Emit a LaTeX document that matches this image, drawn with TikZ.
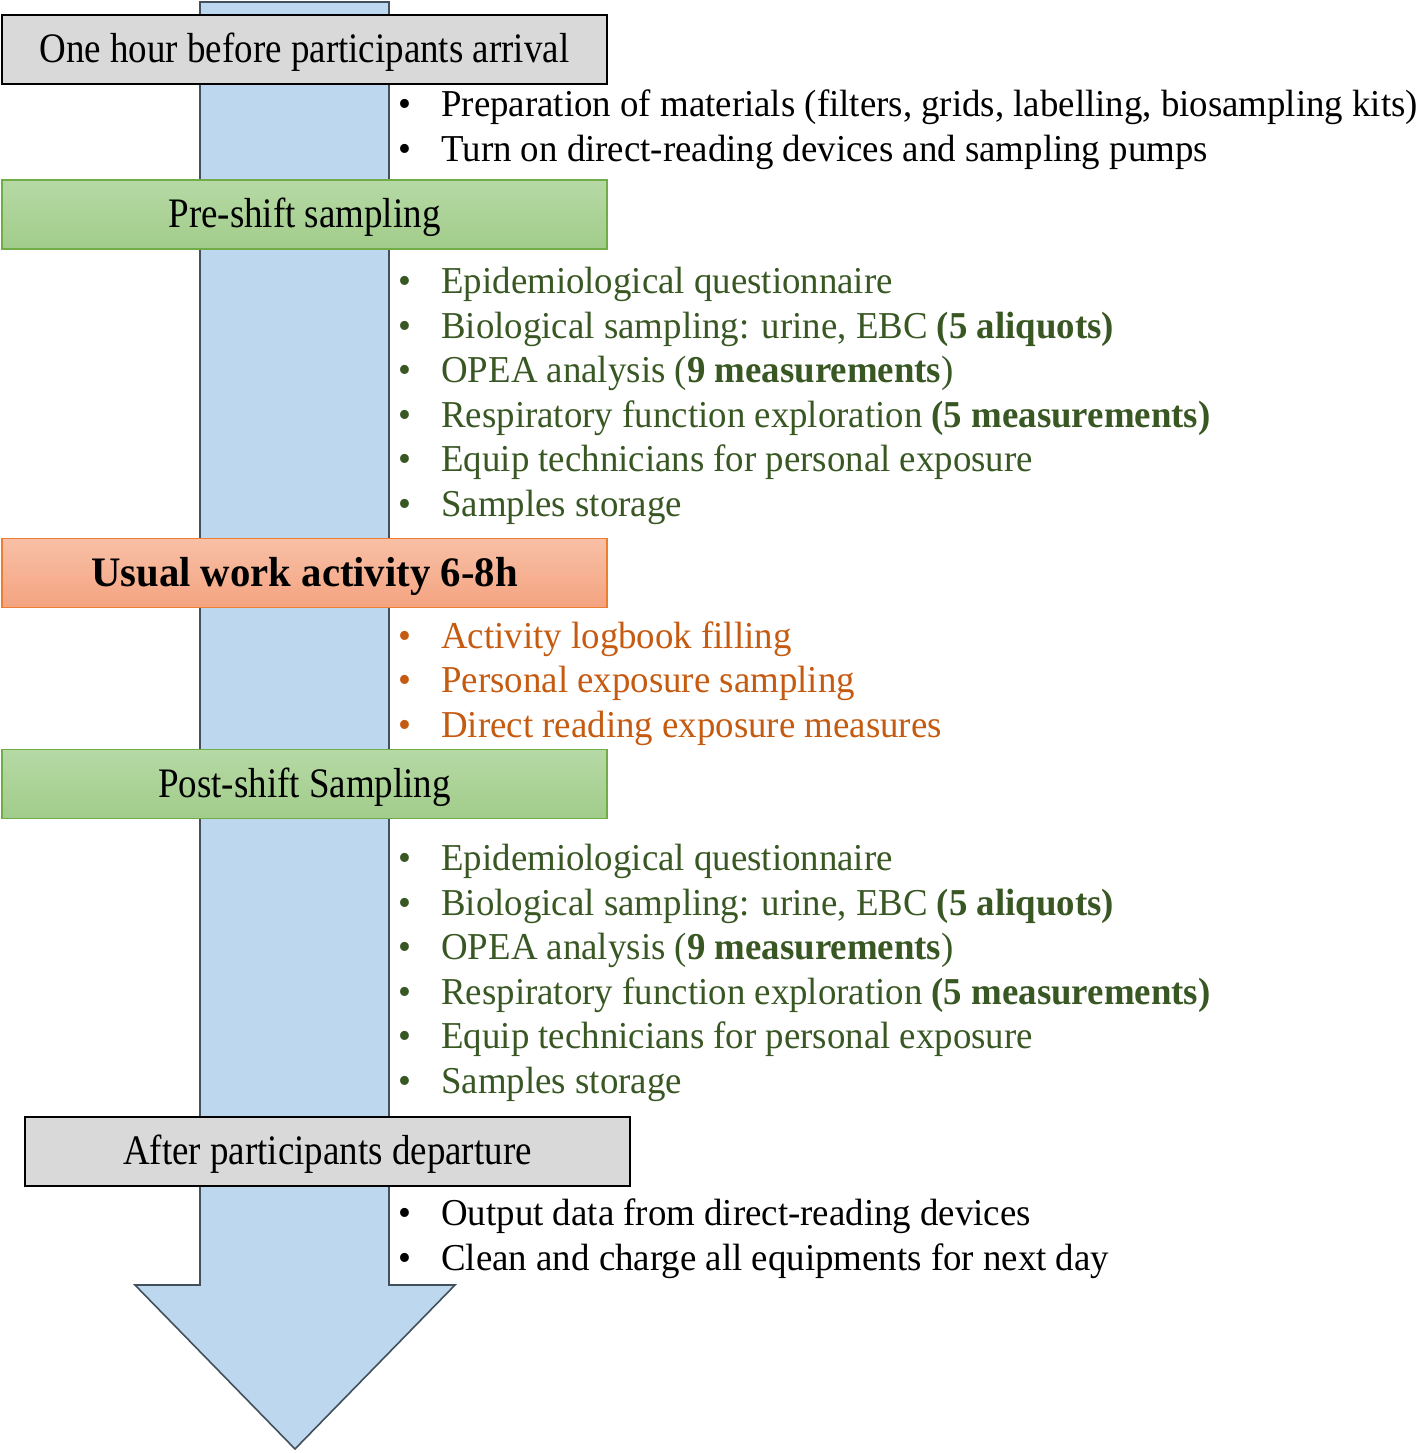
\documentclass[tikz,border=0pt]{standalone}
\usepackage{fontspec}
\setmainfont{Liberation Serif}[FakeStretch=0.97]
\newfontfamily\tltitlefont{Liberation Serif}[FakeStretch=0.88]
\usetikzlibrary{positioning}
\definecolor{tlInk}{HTML}{000000}
\definecolor{tlGrey}{HTML}{D9D9D9}
\definecolor{tlBlue}{HTML}{BDD7EE}
\definecolor{tlSlate}{HTML}{42505C}
\definecolor{tlGreenTop}{HTML}{B6D9A5}
\definecolor{tlGreenBot}{HTML}{A1CC8A}
\definecolor{tlGreenLine}{HTML}{70AD47}
\definecolor{tlGreenText}{HTML}{385723}
\definecolor{tlOrangeTop}{HTML}{F8C0A6}
\definecolor{tlOrangeBot}{HTML}{F4A380}
\definecolor{tlOrangeLine}{HTML}{ED7D31}
\definecolor{tlOrangeText}{HTML}{C55A11}
\newcommand{\tlitem}{\makebox[21.5pt][l]{\textbullet}}
\tikzset{
  tl phase/.style={
    draw=tlInk,
    line width=.9pt,
    minimum width=302.5pt,
    minimum height=34.5pt,
    inner sep=0pt,
    text height=16.5pt,
    text depth=3.5pt,
    font=\fontsize{21}{24}\selectfont\tltitlefont,
    text=tlInk
  },
  tl phase grey/.style={tl phase, fill=tlGrey},
  tl phase green/.style={tl phase, draw=tlGreenLine, top color=tlGreenTop, bottom color=tlGreenBot},
  tl phase orange/.style={tl phase, draw=tlOrangeLine, top color=tlOrangeTop, bottom color=tlOrangeBot,
    font=\fontsize{21}{24}\selectfont\rmfamily\bfseries},
  tl list/.style={anchor=west, inner sep=0pt, font=\fontsize{19}{22.3}\selectfont, align=left},
  tl arrow/.style={fill=tlBlue, draw=tlSlate, line width=.8pt}
}

\begin{document}
\begin{tikzpicture}[x=0.5pt,y=-0.5pt]
  \useasboundingbox (0,0) rectangle (1418,1453);

  % timeline arrow
  \draw[tl arrow] (200,2) -- (389,2) -- (389,1285) -- (455,1285) -- (295,1449)
    -- (135,1285) -- (200,1285) -- cycle;

  % phases
  \node[tl phase grey] (before) at (304.5,49.5) {One hour before participants arrival};
  \node[tl phase green] (preshift) at (304.5,214.5) {Pre-shift sampling};
  \node[tl phase orange] (usual) at (304.5,573) {Usual work activity 6-8h};
  \node[tl phase green] (postshift) at (304.5,784) {Post-shift Sampling};
  \node[tl phase grey] (after) at (327.5,1151.5) {After participants departure};

  % tasks
  \node[tl list, text=tlInk] (prep) at (398,130) {\begin{tabular}{@{}l@{}}
    \tlitem Preparation of materials (filters, grids, labelling, biosampling kits)\\
    \tlitem Turn on direct-reading devices and sampling pumps
  \end{tabular}};
  \node[tl list, text=tlGreenText] (pretasks) at (398,396) {\begin{tabular}{@{}l@{}}
    \tlitem Epidemiological questionnaire\\
    \tlitem Biological sampling: urine, EBC \textbf{(5 aliquots)}\\
    \tlitem OPEA analysis (\textbf{9 measurements})\\
    \tlitem Respiratory function exploration \textbf{(5 measurements)}\\
    \tlitem Equip technicians for personal exposure\\
    \tlitem Samples storage
  \end{tabular}};
  \node[tl list, text=tlOrangeText] (worktasks) at (398,684) {\begin{tabular}{@{}l@{}}
    \tlitem Activity logbook filling\\
    \tlitem Personal exposure sampling\\
    \tlitem Direct reading exposure measures
  \end{tabular}};
  \node[tl list, text=tlGreenText] (posttasks) at (398,973) {\begin{tabular}{@{}l@{}}
    \tlitem Epidemiological questionnaire\\
    \tlitem Biological sampling: urine, EBC \textbf{(5 aliquots)}\\
    \tlitem OPEA analysis (\textbf{9 measurements})\\
    \tlitem Respiratory function exploration \textbf{(5 measurements)}\\
    \tlitem Equip technicians for personal exposure\\
    \tlitem Samples storage
  \end{tabular}};
  \node[tl list, text=tlInk] (aftertasks) at (398,1239) {\begin{tabular}{@{}l@{}}
    \tlitem Output data from direct-reading devices\\
    \tlitem Clean and charge all equipments for next day
  \end{tabular}};
\end{tikzpicture}
\end{document}
